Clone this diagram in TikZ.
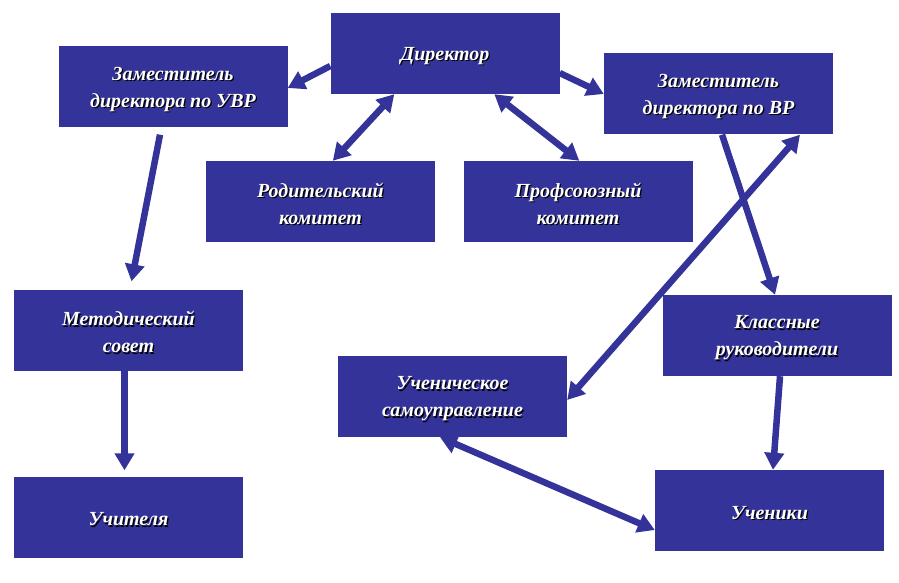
\documentclass[tikz,border=0pt]{standalone}
\usepackage{fontspec}
\setmainfont{Liberation Serif}
\usetikzlibrary{arrows.meta}
\definecolor{bx}{RGB}{51,51,153}
\newcommand\sh[1]{\leavevmode\raisebox{-3pt}[\height][\depth]{\rlap{\kern1.3pt\raisebox{-1.3pt}{\color{black}#1}}#1}}
\tikzset{
  box/.style={fill=bx, minimum width=229pt, minimum height=81pt, inner sep=0pt,
    text=white, align=center, font=\bfseries\itshape\fontsize{20}{27}\selectfont},
  conn/.style={draw=bx, line width=6.5pt, -{Triangle[length=17pt,width=19pt]}},
  dconn/.style={draw=bx, line width=6.5pt, {Triangle[length=17pt,width=19pt]}-{Triangle[length=17pt,width=19pt]}}
}
\begin{document}
\begin{tikzpicture}[x=1pt,y=-1pt]
\useasboundingbox (0,0) rectangle (899,583);
\node[box] (dir) at (445,53.5) {\sh{Директор}};
\node[box] (zuvr) at (173,87) {\sh{Заместитель}\\\sh{директора по УВР}};
\node[box] (rod) at (320.5,201.5) {\sh{Родительский}\\\sh{комитет}};
\node[box] (prof) at (578,201.5) {\sh{Профсоюзный}\\\sh{комитет}};
\node[box] (zvr) at (718.5,94) {\sh{Заместитель}\\\sh{директора по ВР}};
\node[box] (met) at (128.5,330) {\sh{Методический}\\\sh{совет}};
\node[box] (uch) at (128.5,517) {\sh{Учителя}};
\node[box] (usam) at (452.5,396.5) {\sh{Ученическое}\\\sh{самоуправление}};
\node[box] (kl) at (777,335.5) {\sh{Классные}\\\sh{руководители}};
\node[box] (ucn) at (769.5,510.5) {\sh{Ученики}};

\draw[conn] ([yshift=-12.5pt]dir.west) -- ([yshift=-1pt]zuvr.east);
\draw[dconn] ([xshift=64pt]dir.south west) -- ([xshift=127pt]rod.north west);
\draw[dconn] ([xshift=164pt]dir.south west) -- ([xshift=116pt]prof.north west);
\draw[conn] ([yshift=-19.5pt]dir.east) -- (zvr.west);
\draw[conn] ([xshift=-13pt,yshift=-7pt]zuvr.south) -- ([xshift=3pt,yshift=8pt]met.north);
\draw[conn] ([xshift=-4pt]met.south) -- ([xshift=-4pt,yshift=6pt]uch.north);
\draw[conn] ([xshift=3.5pt]zvr.south) -- ([xshift=-2pt]kl.north);
\draw[dconn] ([xshift=81.5pt]zvr.south) -- ([yshift=-3.5pt]usam.east);
\draw[conn] ([xshift=3pt]kl.south) -- ([xshift=3.5pt]ucn.north);
\draw[dconn] ([xshift=-12.5pt]usam.south) -- ([yshift=-19.5pt]ucn.west);
\end{tikzpicture}
\end{document}
